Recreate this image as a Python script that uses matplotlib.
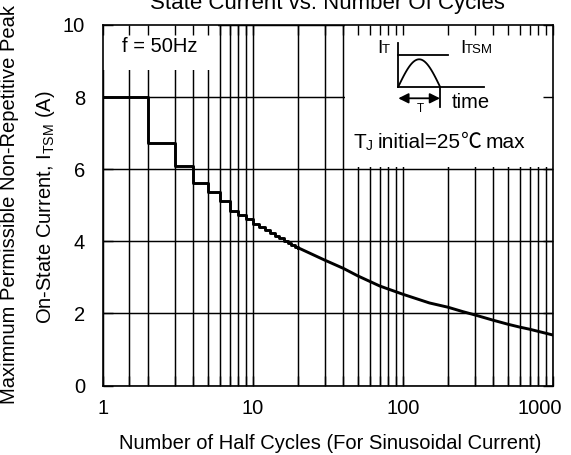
import numpy as np
import matplotlib.pyplot as plt
from matplotlib.patches import Rectangle
from matplotlib.ticker import NullFormatter
from matplotlib.transforms import ScaledTranslation

plt.rcParams['font.family'] = ['Liberation Sans', 'DejaVu Sans']
plt.rcParams['mathtext.fontset'] = 'custom'
plt.rcParams['mathtext.rm'] = 'Liberation Sans'
plt.rcParams['font.size'] = 14.5

# stepped part: one value per half cycle count (1..20)
n_steps = [1, 2, 3, 4, 5, 6, 7, 8, 9, 10, 11, 12, 13, 14, 15, 16, 17, 18, 19, 20]
i_steps = [8.0, 6.72, 6.09, 5.61, 5.36, 5.13, 4.85, 4.73, 4.61, 4.48,
           4.39, 4.30, 4.22, 4.15, 4.08, 4.02, 3.96, 3.90, 3.85, 3.82]

# smooth part (20..1000 half cycles)
n_curve = [20, 30, 40, 50, 70, 100, 150, 200, 250, 300, 400, 500, 600, 700, 800, 1000]
i_curve = [3.82, 3.48, 3.25, 3.04, 2.76, 2.53, 2.29, 2.17, 2.05, 1.96, 1.81, 1.70,
           1.62, 1.56, 1.50, 1.40]

x_major = [1, 10, 100, 1000]
x_major_labels = ['1', '10', '100', '1000']
x_minor = [1.5] + [k * d for d in (1, 10, 100) for k in range(2, 10)]
y_ticks = [0, 2, 4, 6, 8, 10]

W, H = 571, 455
fig = plt.figure(figsize=(W / 100, H / 100), dpi=100)
pos = [103 / W, 1 - 385.5 / H, 450 / W, 360.5 / H]

ax = fig.add_axes(pos, zorder=0)
ax.set_xscale('log')
ax.set_xlim(1, 1000)
ax.set_ylim(0, 10)
ax.set_xticks(x_major)
ax.set_xticklabels(x_major_labels)
ax.set_xticks(x_minor, minor=True)
ax.xaxis.set_minor_formatter(NullFormatter())
ax.set_yticks(y_ticks)
ax.grid(True, which='both', color='black', lw=1.05)
ax.tick_params(which='both', length=0)
ax.tick_params(axis='x', pad=10)
ax.tick_params(axis='y', pad=13)
for s in ax.spines.values():
    s.set_visible(False)

lbl = ax.get_xticklabels()[-1]
lbl.set_transform(lbl.get_transform() + ScaledTranslation(-13 / 100, 0, fig.dpi_scale_trans))

ax.step(n_steps, i_steps, where='post', color='black', lw=2.1, zorder=4)
ax.plot(n_curve, i_curve, color='black', lw=2.1, zorder=4)

# white box behind "f = 50Hz"
ax.add_patch(Rectangle((1, 8.75), 4.85, 1.25, facecolor='white', edgecolor='none', zorder=3))
ax.text(2.4, 9.39, 'f = 50Hz', ha='center', va='center', zorder=5)

# inset box with the pulse sketch, in image pixel coords
bx = fig.add_axes([345 / W, 1 - 167 / H, 208 / W, 142 / H], zorder=1)
bx.set_xlim(345, 553)
bx.set_ylim(167, 25)
bx.set_xticks([])
bx.set_yticks([])
for s in bx.spines.values():
    s.set_visible(False)
bx.set_facecolor('white')

k = dict(color='black', lw=1.3)
bx.plot([398.3, 398.3], [42.7, 86.7], **k)
bx.plot([398.3, 448.3], [55, 55], **k)
bx.plot([398.3, 484], [86.7, 86.7], **k)
bx.plot([440, 440], [86.7, 107], **k)
t = np.linspace(0, 1, 60)
bx.plot(398.3 + 41.7 * t, 86.7 - 27.4 * np.sin(np.pi * t), **k)
bx.annotate('', xy=(398.3, 98.3), xytext=(440, 98.3),
            arrowprops=dict(arrowstyle='<|-|>', color='black', lw=1.3,
                            shrinkA=0, shrinkB=0, mutation_scale=15))
bx.text(377, 53, 'I', ha='left', va='baseline', fontsize=14)
bx.text(381.5, 53, 'T', ha='left', va='baseline', fontsize=9.5)
bx.text(460, 53, 'I', ha='left', va='baseline', fontsize=14)
bx.text(464.5, 53, 'TSM', ha='left', va='baseline', fontsize=9.5)
bx.text(420, 112, 'T', ha='center', va='baseline', fontsize=8.5)
bx.text(452, 108, 'time', ha='left', va='baseline', fontsize=14.5)

# "TJ initial=25℃ max" laid out piece by piece
r = fig.canvas.get_renderer()
inv = bx.transData.inverted()


def after(txt, gap=0.0):
    bb = txt.get_window_extent(r)
    return inv.transform((bb.x1, bb.y0))[0] + gap


tj = bx.text(353, 148, 'T', ha='left', va='baseline', fontsize=15)
tj2 = bx.text(after(tj, 0.3), 149.5, 'J', ha='left', va='baseline', fontsize=10)
tj3 = bx.text(after(tj2, 4.5), 148, 'initial=25', ha='left', va='baseline', fontsize=15)
tj4 = bx.text(after(tj3, 0.5), 148, '\u2103', ha='left', va='baseline', fontsize=15,
              family=['Noto Sans CJK SC', 'DejaVu Sans'])
bx.text(after(tj4, 4.0), 148, 'max', ha='left', va='baseline', fontsize=15)

# overlay axes: frame + inward ticks on all sides
ov = fig.add_axes(pos, zorder=2)
ov.set_facecolor('none')
ov.set_xscale('log')
ov.set_xlim(1, 1000)
ov.set_ylim(0, 10)
ov.set_xticks(x_major)
ov.set_xticks(x_minor, minor=True)
ov.set_yticks(y_ticks)
ov.tick_params(which='both', direction='in', top=True, right=True, length=7, width=1.0,
               labelbottom=False, labelleft=False)
for s in ov.spines.values():
    s.set_linewidth(1.2)

fig.text(327.5 / W, 1 - 9 / H, 'State Current vs. Number Of Cycles', ha='center',
         va='baseline', fontsize=16)
fig.text(330 / W, 1 - 449 / H, 'Number of Half Cycles (For Sinusoidal Current)',
         ha='center', va='baseline')
fig.text(10 / W, 1 - 205 / H, 'Maximnum Permissible Non-Repetitive Peak',
         rotation=90, ha='center', va='center')
fig.text(46 / W, 1 - 207 / H, r'On-State Current, I$_\mathrm{TSM}$ (A)',
         rotation=90, ha='center', va='center')

fig.savefig('out.png', dpi=100)
